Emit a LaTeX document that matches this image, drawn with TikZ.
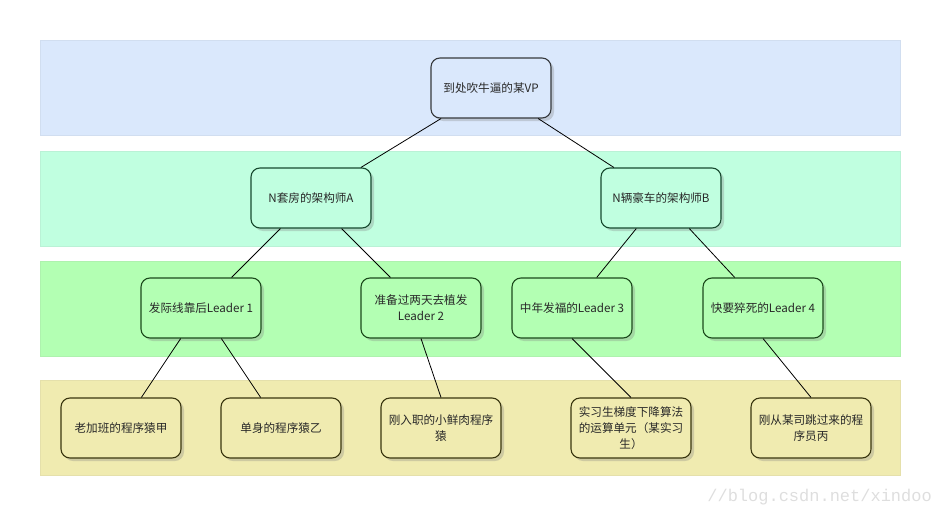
\documentclass[tikz,border=0pt]{standalone}
\usepackage{fontspec}
\setmainfont{Noto Sans CJK SC}
\newfontfamily\markfont{Liberation Mono}
\usetikzlibrary{shadows}
\definecolor{bandblue}{RGB}{218,232,252}
\definecolor{bandmint}{RGB}{192,255,224}
\definecolor{bandgreen}{RGB}{179,255,179}
\definecolor{bandkhaki}{RGB}{240,235,176}
\definecolor{lineblue}{RGB}{54,57,61}
\definecolor{linemint}{RGB}{24,74,48}
\definecolor{linegreen}{RGB}{28,74,28}
\definecolor{linekhaki}{RGB}{58,54,16}
\definecolor{textgray}{RGB}{40,40,40}

\begin{document}
\begin{tikzpicture}[x=1pt,y=-1pt,
    box/.style={rounded corners=9pt, minimum width=120pt, minimum height=60pt,
        align=center, line width=1.1pt, text=textgray,
        font=\fontsize{11.6}{15.8}\selectfont,
        drop shadow={shadow xshift=3pt, shadow yshift=-3pt, opacity=0.3}},
    link/.style={draw=black, line width=0.8pt}]
    \useasboundingbox (0,0) rectangle (941,516);

    % Bands
    \draw[fill=bandblue, draw=bandblue!90!gray, line width=0.6pt] (40,40) rectangle (900,135);
    \draw[fill=bandmint, draw=bandmint!90!gray, line width=0.6pt] (40,151) rectangle (900,246);
    \draw[fill=bandgreen, draw=bandgreen!90!gray, line width=0.6pt] (40,261) rectangle (900,356);
    \draw[fill=bandkhaki, draw=bandkhaki!90!gray, line width=0.6pt] (40,380) rectangle (900,475);

    % Top
    \node[box, fill=bandblue, draw=lineblue] (vp) at (491,88) {到处吹牛逼的某VP};

    % Architects
    \node[box, fill=bandmint, draw=linemint] (archA) at (311,198) {N套房的架构师A};
    \node[box, fill=bandmint, draw=linemint] (archB) at (661,198) {N辆豪车的架构师B};

    % Leaders
    \node[box, fill=bandgreen, draw=linegreen] (lead1) at (201,308) {发际线靠后Leader 1};
    \node[box, fill=bandgreen, draw=linegreen] (lead2) at (421,308) {准备过两天去植发\\Leader 2};
    \node[box, fill=bandgreen, draw=linegreen] (lead3) at (572,308) {中年发福的Leader 3};
    \node[box, fill=bandgreen, draw=linegreen] (lead4) at (763,308) {快要猝死的Leader 4};

    % Coders
    \node[box, fill=bandkhaki, draw=linekhaki] (coder1) at (121,428) {老加班的程序猿甲};
    \node[box, fill=bandkhaki, draw=linekhaki] (coder2) at (281,428) {单身的程序猿乙};
    \node[box, fill=bandkhaki, draw=linekhaki] (coder3) at (441,428) {刚入职的小鲜肉程序\\猿};
    \node[box, fill=bandkhaki, draw=linekhaki] (coder4) at (631,428) {实习生梯度下降算法\\的运算单元（某实习\\生）};
    \node[box, fill=bandkhaki, draw=linekhaki] (coder5) at (811,428) {刚从某司跳过来的程\\序员丙};

    % Links
    \draw[link] (vp) -- (archA);
    \draw[link] (vp) -- (archB);
    \draw[link] (archA) -- (lead1);
    \draw[link] (archA) -- (lead2);
    \draw[link] (archB) -- (lead3);
    \draw[link] (archB) -- (lead4);
    \draw[link] (lead1) -- (coder1);
    \draw[link] (lead1) -- (coder2);
    \draw[link] (lead2.south) -- (coder3.north);
    \draw[link] (lead3.south) -- (coder4.north);
    \draw[link] (lead4.south) -- (coder5.north);

    % Watermark
    \node[anchor=east, text=black!13, font=\markfont\fontsize{17}{17}\selectfont, inner sep=0pt] (mark) at (932,497) {//blog.csdn.net/xindoo};
\end{tikzpicture}
\end{document}
